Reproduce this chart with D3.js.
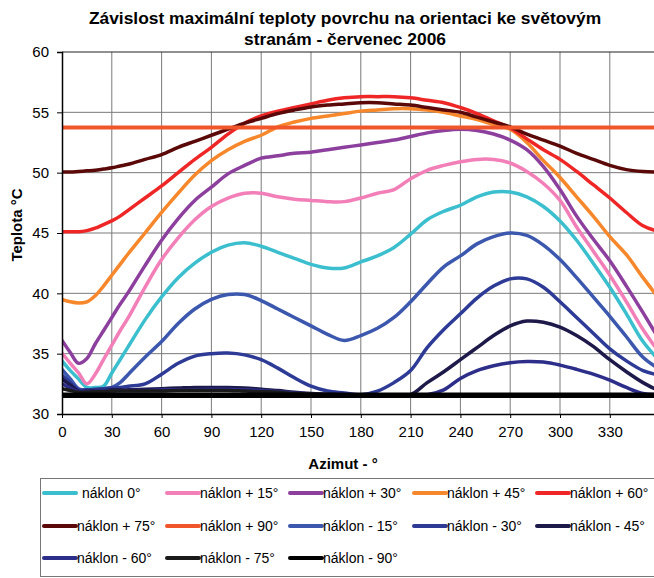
<!DOCTYPE html>
<html>
<head>
<meta charset="utf-8">
<script src="https://cdn.jsdelivr.net/npm/d3@7/dist/d3.min.js"></script>
<style>
body { margin: 0; background: #fff; }
text { font-family: "Liberation Sans", Arial, sans-serif; }
</style>
</head>
<body>
<div id="chart"></div>
<script>
// azimut (deg) - finer at the start where the curves have their kink
const azimut = [0, 5, 10, 15, 20, 25, 30, 35, 40, 50, 60, 70, 80, 90, 100, 110, 120, 130, 140, 150,
    160, 170, 180, 190, 200, 210, 220, 230, 240, 250, 260, 270, 280, 290, 300, 310, 320, 330, 340, 350, 360];

const xTickLabels = ["0", "30", "60", "90", "120", "150", "180", "210", "240", "270", "300", "330"];
const yTickLabels = ["30", "35", "40", "45", "50", "55", "60"];

const seriesNames = ["náklon 0°", "náklon + 15°", "náklon + 30°", "náklon + 45°", "náklon + 60°",
    "náklon + 75°", "náklon + 90°", "náklon - 15°", "náklon - 30°", "náklon - 45°",
    "náklon - 60°", "náklon - 75°", "náklon - 90°"];

const naklon0 = [34.4, 33.6, 32.9, 32.2, 32.2, 32.3, 33.4, 34.5, 35.6,
    37.8, 39.7, 41.3, 42.5, 43.4, 44.0, 44.2, 43.9, 43.4, 42.9, 42.4, 42.1, 42.1, 42.6, 43.1, 43.8,
    44.9, 46.1, 46.8, 47.3, 48.0, 48.4, 48.4, 48.0, 47.2, 46.0, 44.4, 42.5, 40.5, 38.3, 36.0, 34.4];
const naklonP15 = [35.05, 34.2, 33.4, 32.5, 33.3, 34.5, 35.7, 36.9, 38.0,
    40.5, 42.8, 44.6, 46.1, 47.2, 47.9, 48.3, 48.3, 48.0, 47.8, 47.7, 47.6, 47.6, 47.9, 48.3, 48.6,
    49.5, 50.2, 50.6, 50.9, 51.1, 51.1, 50.8, 50.1, 49.1, 47.7, 45.5, 43.5, 41.5, 39.3, 37.0, 35.05];
const naklonP30 = [36.1, 35.1, 34.2, 34.6, 35.8, 36.9, 38.0, 39.1, 40.1,
    42.3, 44.4, 46.2, 47.7, 48.8, 49.9, 50.6, 51.2, 51.4, 51.6, 51.7, 51.9, 52.1, 52.3, 52.5, 52.7,
    53.0, 53.3, 53.5, 53.6, 53.5, 53.2, 52.7, 51.9, 50.5, 48.6, 46.4, 44.5, 42.7, 40.6, 38.4, 36.1];
const naklonP45 = [39.5, 39.3, 39.2, 39.3, 39.8, 40.6, 41.5, 42.4, 43.3,
    45.0, 46.7, 48.3, 49.8, 51.0, 51.9, 52.6, 53.1, 53.8, 54.2, 54.5, 54.7, 54.9, 55.1, 55.2, 55.3,
    55.3, 55.2, 55.0, 54.7, 54.4, 54.0, 53.6, 52.5, 51.0, 49.6, 48.0, 46.4, 44.7, 43.2, 41.3, 39.5];
const naklonP60 = [45.1, 45.1, 45.1, 45.2, 45.4, 45.7, 46.0, 46.4, 46.9,
    47.9, 48.9, 50.0, 51.1, 52.1, 53.2, 54.1, 54.7, 55.1, 55.4, 55.7, 56.0, 56.2, 56.3, 56.3, 56.3,
    56.2, 56.0, 55.8, 55.4, 54.9, 54.3, 53.7, 52.8, 51.9, 51.1, 50.1, 49.0, 47.9, 46.7, 45.6, 45.1];
const naklonP75 = [50.05, 50.05, 50.1, 50.15, 50.2, 50.3, 50.4, 50.55, 50.7,
    51.1, 51.5, 52.1, 52.6, 53.1, 53.6, 54.1, 54.5, 54.9, 55.2, 55.45, 55.6, 55.7, 55.8, 55.8, 55.7,
    55.6, 55.4, 55.2, 55.0, 54.6, 54.2, 53.8, 53.2, 52.7, 52.2, 51.6, 51.1, 50.6, 50.25, 50.1, 50.05];
const naklonP90 = [53.75, 53.75, 53.75, 53.75, 53.75, 53.75, 53.75, 53.75, 53.75,
    53.75, 53.75, 53.75, 53.75, 53.75, 53.75, 53.75, 53.75, 53.75, 53.75, 53.75, 53.75, 53.75, 53.75, 53.75, 53.75,
    53.75, 53.75, 53.75, 53.75, 53.75, 53.75, 53.75, 53.75, 53.75, 53.75, 53.75, 53.75, 53.75, 53.75, 53.75, 53.75];
const naklonM15 = [33.7, 32.9, 32.1, 32.0, 32.0, 32.1, 32.2, 32.6, 33.3,
    34.7, 36.0, 37.5, 38.7, 39.5, 39.9, 39.9, 39.4, 38.7, 38.0, 37.3, 36.6, 36.1, 36.5, 37.1, 38.0,
    39.3, 40.8, 42.2, 43.1, 44.1, 44.7, 45.0, 44.8, 44.0, 42.8, 41.3, 39.7, 38.1, 36.4, 34.7, 33.7];
const naklonM30 = [33.2, 32.6, 32.0, 32.0, 32.05, 32.1, 32.15, 32.2, 32.3,
    32.5, 33.3, 34.2, 34.8, 35.0, 35.05, 34.9, 34.5, 33.8, 33.0, 32.3, 31.9, 31.75, 31.6, 31.9, 32.6,
    33.6, 35.5, 37.0, 38.3, 39.6, 40.6, 41.2, 41.2, 40.5, 39.3, 38.0, 36.7, 35.4, 34.4, 33.6, 33.2];
const naklonM45 = [32.9, 32.4, 31.9, 31.9, 31.95, 31.95, 32.0, 32.0, 32.0,
    32.05, 32.1, 32.15, 32.2, 32.2, 32.2, 32.15, 32.05, 31.95, 31.8, 31.7, 31.65, 31.6, 31.6, 31.6, 31.6,
    31.6, 32.6, 33.5, 34.5, 35.5, 36.5, 37.3, 37.7, 37.6, 37.2, 36.5, 35.6, 34.5, 33.5, 32.6, 31.9];
const naklonM60 = [32.5, 32.15, 31.85, 31.85, 31.9, 31.9, 31.9, 31.95, 31.95,
    31.95, 32.0, 32.0, 32.0, 32.05, 32.05, 32.0, 31.95, 31.85, 31.75, 31.65, 31.6, 31.6, 31.6, 31.6, 31.6,
    31.6, 31.6, 32.0, 32.95, 33.6, 34.0, 34.25, 34.35, 34.3, 34.05, 33.7, 33.3, 32.8, 32.2, 31.7, 31.6];
const naklonM75 = [32.1, 31.95, 31.8, 31.8, 31.85, 31.85, 31.9, 31.9, 31.9,
    31.9, 31.9, 31.95, 31.95, 31.95, 31.95, 31.9, 31.85, 31.8, 31.7, 31.65, 31.6, 31.6, 31.6, 31.6, 31.6,
    31.6, 31.6, 31.6, 31.6, 31.6, 31.6, 31.6, 31.6, 31.6, 31.6, 31.6, 31.6, 31.6, 31.6, 31.6, 31.6];
const naklonM90 = [31.55, 31.55, 31.55, 31.55, 31.55, 31.55, 31.55, 31.55, 31.55,
    31.55, 31.55, 31.55, 31.55, 31.55, 31.55, 31.55, 31.55, 31.55, 31.55, 31.55, 31.55, 31.55, 31.55, 31.55, 31.55,
    31.55, 31.55, 31.55, 31.55, 31.55, 31.55, 31.55, 31.55, 31.55, 31.55, 31.55, 31.55, 31.55, 31.55, 31.55, 31.55];

const seriesValues = [naklon0, naklonP15, naklonP30, naklonP45, naklonP60, naklonP75, naklonP90,
    naklonM15, naklonM30, naklonM45, naklonM60, naklonM75, naklonM90];

const colors = ["#3bbfcf", "#f27fb8", "#8d3f9e", "#f7872b", "#ee2726", "#5a0808", "#f0562a",
    "#3c58ae", "#2e3b96", "#1d1a4a", "#2d2d8a", "#1a1a1a", "#000000"];
const widths = [3.5, 3.5, 3.5, 3.5, 3.5, 3.5, 4, 3.5, 3.5, 3.5, 3.5, 3.5, 5.5];

const W = 654, H = 578;
const plot = { left: 62, top: 52, bottom: 414 };

const svg = d3.select("#chart").append("svg")
    .attr("width", W)
    .attr("height", H);

svg.append("rect").attr("width", W).attr("height", H).attr("fill", "#fff");

let x = d3.scaleLinear().domain([0, 360]).range([plot.left, plot.left + 360 * 1.66]);
let y = d3.scaleLinear().domain([30, 60]).range([plot.bottom, plot.top]);

// title
let title = svg.append("text")
    .attr("x", 345)
    .attr("text-anchor", "middle")
    .style("font-size", "17.4px")
    .style("font-weight", "bold");
title.append("tspan").attr("x", 345).attr("y", 24).text("Závislost maximální teploty povrchu na orientaci ke světovým");
title.append("tspan").attr("x", 345).attr("y", 45).text("stranám - červenec 2006");

// grid
let grid = svg.append("g").attr("class", "grid");
grid.selectAll(".hgrid")
    .data(yTickLabels.map(Number).filter(v => v > 30 && v < 60))
    .enter().append("line")
    .attr("x1", plot.left).attr("x2", W)
    .attr("y1", d => y(d)).attr("y2", d => y(d))
    .attr("stroke", "#7a7a7a").attr("stroke-width", 1);
grid.selectAll(".vgrid")
    .data(xTickLabels.map(Number).filter(v => v > 0))
    .enter().append("line")
    .attr("x1", d => x(d)).attr("x2", d => x(d))
    .attr("y1", plot.top).attr("y2", plot.bottom)
    .attr("stroke", "#7a7a7a").attr("stroke-width", 1);

// top border
svg.append("line")
    .attr("x1", plot.left).attr("x2", W)
    .attr("y1", plot.top).attr("y2", plot.top)
    .attr("stroke", "#222").attr("stroke-width", 1.2);

// series
svg.append("clipPath").attr("id", "clip")
    .append("rect")
    .attr("x", plot.left).attr("y", plot.top)
    .attr("width", W - plot.left).attr("height", plot.bottom - plot.top);

let line = d3.line()
    .x((d, i) => x(azimut[i]))
    .y(d => y(d))
    .curve(d3.curveCatmullRom.alpha(0.5));

svg.append("g")
    .attr("clip-path", "url(#clip)")
    .selectAll("path")
    .data(seriesValues)
    .enter().append("path")
    .attr("d", d => line(d))
    .attr("fill", "none")
    .attr("stroke", (d, i) => colors[i])
    .attr("stroke-width", (d, i) => widths[i])
    .attr("stroke-linejoin", "round")
    .attr("stroke-linecap", "round");

// axes
let xAxis = d3.axisBottom(x)
    .tickValues(xTickLabels.map(Number))
    .tickFormat((d, i) => xTickLabels[i])
    .tickSize(4)
    .tickPadding(8);
let gx = svg.append("g")
    .attr("transform", "translate(0," + plot.bottom + ")")
    .call(xAxis);
gx.select(".domain").attr("d", "M" + plot.left + ",0.5H" + W).attr("stroke", "#000").attr("stroke-width", 1.5);

let yAxis = d3.axisLeft(y)
    .tickValues(yTickLabels.map(Number))
    .tickFormat((d, i) => yTickLabels[i])
    .tickSize(5)
    .tickPadding(8);
let gy = svg.append("g")
    .attr("transform", "translate(" + plot.left + ",0)")
    .call(yAxis);
gy.select(".domain").attr("stroke", "#000").attr("stroke-width", 1.5);

svg.selectAll(".tick text")
    .style("font-family", "'Liberation Sans', Arial, sans-serif")
    .style("font-size", "15px")
    .attr("fill", "#000");

// axis titles
svg.append("text")
    .attr("transform", "translate(22,225) rotate(-90)")
    .attr("text-anchor", "middle")
    .style("font-size", "15px")
    .style("font-weight", "bold")
    .text("Teplota °C");

svg.append("text")
    .attr("x", 343).attr("y", 469)
    .attr("text-anchor", "middle")
    .style("font-size", "15px")
    .style("font-weight", "bold")
    .text("Azimut - °");

// legend
let legend = svg.append("g");
legend.append("rect")
    .attr("x", 40.5).attr("y", 478.5)
    .attr("width", 700).attr("height", 98)
    .attr("fill", "#fff")
    .attr("stroke", "#777").attr("stroke-width", 1);

let colX = [44, 167, 290, 414, 537];
let rowY = [493, 526, 558];
let items = legend.selectAll(".item")
    .data(seriesNames)
    .enter().append("g")
    .attr("transform", (d, i) => "translate(" + colX[i % 5] + "," + rowY[Math.floor(i / 5)] + ")");
items.append("line")
    .attr("x1", 0).attr("x2", 32)
    .attr("stroke", (d, i) => colors[i])
    .attr("stroke-width", 4)
    .attr("stroke-linecap", "round");
items.append("text")
    .attr("x", (d, i) => i === 0 ? 38 : 33)
    .attr("dy", "0.36em")
    .style("font-size", "14px")
    .text(d => d);
</script>
</body>
</html>
